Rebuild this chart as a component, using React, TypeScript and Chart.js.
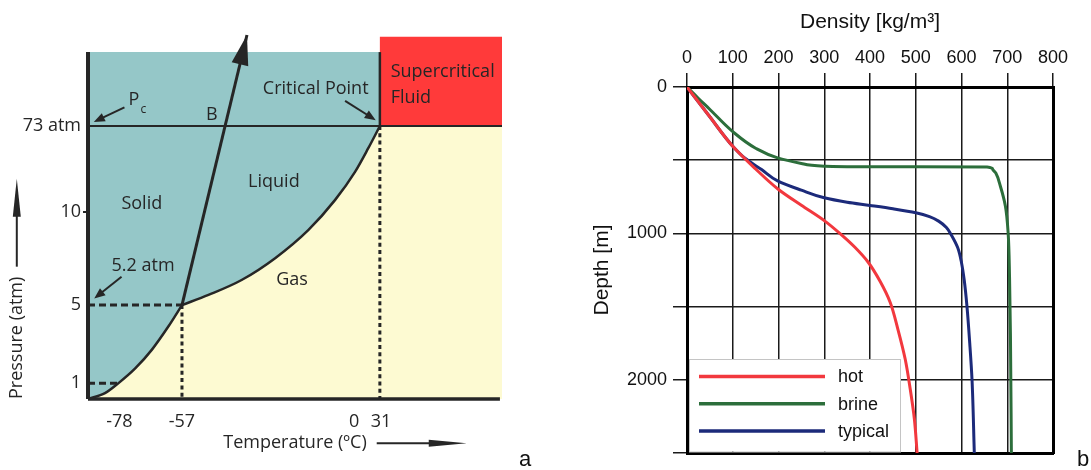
import React, { useEffect, useRef } from 'react';
import { Chart, registerables } from 'chart.js';

Chart.register(...registerables);

// ---------------- Panel a: CO2 phase diagram (schematic diagram units 0–100) ----------------
const temperatureTicks = ['-78', '-57', '0', '31'];
const temperatureTickPos = [7.6, 22.7, 64.3, 70.8];
const pressureTicks = ['1', '5', '10', '73 atm'];
const pressureTickPos = [4.4, 25.8, 51.4, 75.0];

const sublimationT = [0, 4.1, 7.3, 11.4, 15.4, 19.4, 22.7];
const sublimationP = [0, 1.6, 4.3, 8.4, 13.5, 19.9, 25.8];
const vaporizationT = [22.7, 29.1, 37.1, 45.2, 53.2, 59.7, 64.5, 67.7, 70.5];
const vaporizationP = [25.8, 28.6, 32.7, 38.7, 46.4, 54.7, 62.4, 68.9, 75.0];
const meltingT = [22.7, 38.4];
const meltingP = [25.8, 100];
const triplePoint = [22.7, 25.8];
const onePressurePoint = [7.3, 4.3];
const criticalPoint = [70.5, 75.0];
const solidLiquidTop = 95.3;
const supercriticalTop = 99.5;
const diagramMaxT = 100;

const phaseLabels = ['Solid', 'Liquid', 'Gas'];
const phaseLabelT = [13.0, 44.9, 49.3];
const phaseLabelP = [53.6, 59.6, 32.7];

// ---------------- Panel b: density vs depth ----------------
const seriesNames = ['hot', 'brine', 'typical'];
const hotDensity = [0, 49, 100, 150, 200, 250, 300, 334, 367, 396, 422, 444, 461, 477, 488, 497, 503];
const hotDepth = [0, 200, 405, 560, 700, 808, 913, 1000, 1095, 1197, 1327, 1470, 1655, 1860, 2065, 2268, 2500];
const brineDensity = [0, 24, 49, 100, 150, 198, 250, 300, 350, 656, 668, 675, 685, 696, 702, 705, 707, 709];
const brineDepth = [0, 75, 150, 305, 418, 484, 522, 541, 544, 547, 560, 588, 678, 814, 1000, 1300, 1700, 2500];
const typicalDensity = [0, 49, 100, 126, 163, 199, 250, 300, 350, 400, 450, 500, 530, 550, 567, 579, 592, 600, 606, 612, 618, 623, 628];
const typicalDepth = [0, 200, 405, 485, 564, 643, 705, 757, 787, 809, 832, 859, 885, 916, 960, 1018, 1100, 1200, 1320, 1500, 1750, 2000, 2500];
const densityMax = 800;
const depthMax = 2500;

const INK = '#262626';
const TEAL = '#95c7c8';
const CREAM = '#fdfad2';
const RED = '#ff3a3a';
const OPEN = "'Open Sans', sans-serif";
const ARIAL = "'Liberation Sans', Arial, sans-serif";

const pts = (xs: number[], ys: number[]) => xs.map((x, i) => ({ x, y: ys[i] }));

function arrow(ctx: CanvasRenderingContext2D, x1: number, y1: number, x2: number, y2: number, headLen: number, headHalf: number, width: number) {
  const a = Math.atan2(y2 - y1, x2 - x1);
  const bx = x2 - Math.cos(a) * headLen * 0.8;
  const by = y2 - Math.sin(a) * headLen * 0.8;
  ctx.lineWidth = width;
  ctx.beginPath();
  ctx.moveTo(x1, y1);
  ctx.lineTo(bx, by);
  ctx.stroke();
  const hx = x2 - Math.cos(a) * headLen;
  const hy = y2 - Math.sin(a) * headLen;
  ctx.beginPath();
  ctx.moveTo(x2, y2);
  ctx.lineTo(hx - Math.sin(a) * headHalf, hy + Math.cos(a) * headHalf);
  ctx.lineTo(hx + Math.sin(a) * headHalf, hy - Math.cos(a) * headHalf);
  ctx.closePath();
  ctx.fill();
}

const phasePlugin = {
  id: 'phaseAnnotations',
  afterDatasetsDraw(chart: any) {
    const { ctx, scales } = chart;
    const xs = scales.x;
    const ys = scales.y;
    const px = (t: number) => xs.getPixelForValue(t);
    const py = (p: number) => ys.getPixelForValue(p);
    ctx.save();
    ctx.fillStyle = INK;
    ctx.strokeStyle = INK;
    ctx.font = `18px ${OPEN}`;
    ctx.textAlign = 'center';
    ctx.textBaseline = 'middle';
    phaseLabels.forEach((l, i) => ctx.fillText(l, px(phaseLabelT[i]), py(phaseLabelP[i])));
    ctx.fillText('Critical Point', px(55.0), py(85.2));
    ctx.fillText('B', px(29.9), py(78.0));
    ctx.fillText('5.2 atm', px(13.3), py(36.5));
    ctx.fillText('P', px(11.1), py(82.3));
    ctx.font = `12px ${OPEN}`;
    ctx.fillText('c', px(13.4), py(79.6));
    ctx.font = `18px ${OPEN}`;
    ctx.textAlign = 'left';
    ctx.fillText('Supercritical', px(73.1), py(89.8));
    ctx.fillText('Fluid', px(73.1), py(82.7));

    // annotation arrows
    arrow(ctx, px(8.8), py(80.1), px(1.4), py(76.1), 11, 4.5, 2);
    arrow(ctx, px(8.1), py(33.6), px(1.5), py(27.6), 11, 4.5, 2);
    arrow(ctx, px(62.1), py(81.9), px(69.5), py(76.6), 11, 4.5, 2);

    // arrowhead of the melting line
    const n = meltingT.length - 1;
    const tx = px(meltingT[n]);
    const ty = py(meltingP[n]);
    const a = Math.atan2(ty - py(meltingP[0]), tx - px(meltingT[0]));
    const hx = tx - Math.cos(a) * 30;
    const hy = ty - Math.sin(a) * 30;
    ctx.beginPath();
    ctx.moveTo(tx, ty);
    ctx.lineTo(hx - Math.sin(a) * 8.5, hy + Math.cos(a) * 8.5);
    ctx.lineTo(hx + Math.sin(a) * 8.5, hy - Math.cos(a) * 8.5);
    ctx.closePath();
    ctx.fill();

    // axis-title arrows
    ctx.font = `18px ${OPEN}`;
    const xt = xs.options.title;
    const xw = ctx.measureText(xt.text).width;
    const xcx = (xs.left + xs.right) / 2;
    const xcy = xs.bottom - (18 * 1.2) / 2 - xt.padding.bottom;
    arrow(ctx, xcx + xw / 2 + 10, xcy, xcx + xw / 2 + 100, xcy, 38, 3.5, 2);
    const yt = ys.options.title;
    const yw = ctx.measureText(yt.text).width;
    const ycx = ys.left + (18 * 1.2) / 2 + yt.padding.top;
    const ytop = ys.bottom - yw;
    arrow(ctx, ycx, ytop - 10, ycx, ytop - 98, 38, 4, 2);

    ctx.font = `22px ${ARIAL}`;
    ctx.fillStyle = '#111';
    ctx.textAlign = 'center';
    ctx.fillText('a', 525, 460);
    ctx.restore();
  },
};

function PhaseDiagram() {
  const ref = useRef<HTMLCanvasElement>(null);
  useEffect(() => {
    const curve = [...pts(sublimationT, sublimationP), ...pts(vaporizationT.slice(1), vaporizationP.slice(1))];
    const [cT, cP] = criticalPoint;
    const [tT, tP] = triplePoint;
    const [oT, oP] = onePressurePoint;
    const poly = (data: any[], color: string) => ({
      data, fill: 'shape', backgroundColor: color, borderWidth: 0, pointRadius: 0, tension: 0, order: 20,
    });
    const seg = (data: any[], width: number, dash: number[] = [], extra: any = {}) => ({
      data, fill: false, borderColor: INK, borderWidth: width, borderDash: dash, pointRadius: 0,
      tension: 0, order: 1, clip: false, borderCapStyle: 'butt', ...extra,
    });
    const chart = new Chart(ref.current!, {
      type: 'line',
      data: {
        datasets: [
          poly([...curve, { x: cT, y: solidLiquidTop }, { x: 0, y: solidLiquidTop }], TEAL),
          poly([...curve, { x: diagramMaxT, y: cP }, { x: diagramMaxT, y: 0 }], CREAM),
          poly([{ x: cT, y: cP }, { x: diagramMaxT, y: cP }, { x: diagramMaxT, y: supercriticalTop }, { x: cT, y: supercriticalTop }], RED),
          seg([{ x: 0, y: tP }, { x: tT, y: tP }], 3, [7, 4]),
          seg([{ x: tT, y: tP }, { x: tT, y: 0 }], 3, [4, 3.3]),
          seg([{ x: 0, y: oP }, { x: oT, y: oP }], 3, [7, 4]),
          seg([{ x: cT, y: cP }, { x: cT, y: 0 }], 3, [4, 3.3]),
          seg([{ x: 0, y: cP }, { x: diagramMaxT, y: cP }], 2),
          seg([{ x: cT, y: cP }, { x: cT, y: solidLiquidTop }], 2.5),
          seg(pts(sublimationT, sublimationP), 2.5, [], { cubicInterpolationMode: 'monotone' }),
          seg(pts(vaporizationT, vaporizationP), 2.5, [], { cubicInterpolationMode: 'monotone' }),
          seg(pts(meltingT, meltingP), 3),
          seg([{ x: 0, y: 0 }, { x: 0, y: solidLiquidTop }], 4),
          seg([{ x: 0, y: 0 }, { x: diagramMaxT - 0.5, y: 0 }], 3.5),
        ],
      },
      options: {
        responsive: false,
        animation: false,
        devicePixelRatio: 1,
        events: [],
        layout: { padding: { top: 35, right: 43, bottom: 0, left: 0 } },
        plugins: { legend: { display: false }, tooltip: { enabled: false } },
        scales: {
          x: {
            type: 'linear', position: 'bottom', min: 0, max: diagramMaxT,
            afterBuildTicks: (s: any) => { s.ticks = temperatureTickPos.map((value) => ({ value })); },
            afterFit: (s: any) => { s.height = 71; },
            ticks: {
              autoSkip: false, maxRotation: 0, padding: 4, color: INK, font: { family: OPEN, size: 18 },
              callback: (_v: any, i: number) => temperatureTicks[i],
            },
            grid: { display: false },
            border: { display: false },
            title: { display: true, text: 'Temperature (ºC)', color: INK, font: { family: OPEN, size: 18 }, padding: { top: 0, bottom: 16 } },
          },
          y: {
            type: 'linear', position: 'left', min: 0, max: 100,
            afterBuildTicks: (s: any) => { s.ticks = pressureTickPos.map((value) => ({ value })); },
            afterFit: (s: any) => { s.width = 88; },
            ticks: {
              autoSkip: false, padding: 2, color: INK, font: { family: OPEN, size: 18 },
              callback: (_v: any, i: number) => pressureTicks[i],
            },
            grid: {
              drawOnChartArea: false, drawTicks: true, tickLength: 5, lineWidth: 2,
              color: (c: any) => (c.index === 2 ? INK : 'rgba(0,0,0,0)'),
            },
            border: { display: false },
            title: { display: true, text: 'Pressure (atm)', align: 'start', color: INK, font: { family: OPEN, size: 18 }, padding: { top: 6, bottom: 0 } },
          },
        },
      },
      plugins: [phasePlugin],
    } as any);
    return () => chart.destroy();
  }, []);
  return <canvas ref={ref} width={545} height={470} style={{ position: 'absolute', left: 0, top: 0 }} />;
}

const legendPlugin = {
  id: 'boxLegend',
  afterDatasetsDraw(chart: any) {
    const { ctx, chartArea } = chart;
    const x0 = chartArea.left + 2;
    const x1 = x0 + 212;
    const y1 = chartArea.bottom - 1.5;
    const y0 = chartArea.bottom - 94;
    ctx.save();
    ctx.fillStyle = '#fff';
    ctx.fillRect(x0, y0, x1 - x0, y1 - y0);
    ctx.strokeStyle = '#c4c4c4';
    ctx.lineWidth = 1;
    ctx.strokeRect(x0 + 0.5, y0 + 0.5, x1 - x0 - 1, y1 - y0);
    ctx.font = `18px ${ARIAL}`;
    ctx.textBaseline = 'middle';
    ctx.textAlign = 'left';
    chart.data.datasets.forEach((ds: any, i: number) => {
      const y = y0 + 17.5 + i * 27.3;
      ctx.strokeStyle = ds.borderColor;
      ctx.lineWidth = 3.5;
      ctx.beginPath();
      ctx.moveTo(x0 + 10, y);
      ctx.lineTo(x0 + 136, y);
      ctx.stroke();
      ctx.fillStyle = '#111';
      ctx.fillText(ds.label, x0 + 149, y + 1);
    });
    ctx.font = `22px ${ARIAL}`;
    ctx.textAlign = 'center';
    ctx.fillText('b', 538, 460);
    ctx.restore();
  },
};

function DensityChart() {
  const ref = useRef<HTMLCanvasElement>(null);
  useEffect(() => {
    const line = (label: string, xs: number[], ys: number[], color: string) => ({
      label, data: pts(xs, ys), borderColor: color, backgroundColor: color, borderWidth: 3,
      pointRadius: 0, fill: false, cubicInterpolationMode: 'monotone', xAxisID: 'x', yAxisID: 'y',
    });
    const grid = { color: '#1a1a1a', lineWidth: 1.5, tickLength: 14, tickColor: '#1a1a1a' };
    const chart = new Chart(ref.current!, {
      type: 'line',
      data: {
        datasets: [
          line(seriesNames[0], hotDensity, hotDepth, '#f2383e'),
          line(seriesNames[1], brineDensity, brineDepth, '#2c6e3b'),
          line(seriesNames[2], typicalDensity, typicalDepth, '#1c2a7a'),
        ],
      },
      options: {
        indexAxis: 'y',
        responsive: false,
        animation: false,
        devicePixelRatio: 1,
        events: [],
        layout: { padding: { top: 0, right: 38, bottom: 17, left: 0 } },
        plugins: { legend: { display: false }, tooltip: { enabled: false } },
        scales: {
          x: {
            type: 'linear', position: 'top', min: 0, max: densityMax,
            afterFit: (s: any) => { s.height = 87; },
            ticks: { stepSize: 100, padding: 4, color: '#111', font: { family: ARIAL, size: 18 } },
            grid,
            border: { width: 3, color: '#000' },
            title: { display: true, text: 'Density [kg/m³]', color: '#111', font: { family: ARIAL, size: 21 }, padding: { top: 10, bottom: 0 } },
          },
          y: {
            type: 'linear', position: 'left', min: 0, max: depthMax, reverse: true,
            afterFit: (s: any) => { s.width = 142; },
            ticks: {
              stepSize: 500, padding: 6, color: '#111', font: { family: ARIAL, size: 18 },
              callback: (v: any) => (v % 1000 === 0 ? String(v) : ''),
            },
            grid,
            border: { width: 3, color: '#000' },
            title: { display: true, text: 'Depth [m]', color: '#111', font: { family: ARIAL, size: 21 }, padding: { top: 45, bottom: 0 } },
          },
          x2: {
            type: 'linear', axis: 'x', position: 'bottom', min: 0, max: densityMax,
            afterFit: (s: any) => { s.height = 0; },
            ticks: { display: false },
            grid: { drawOnChartArea: false, drawTicks: false },
            border: { width: 3, color: '#000' },
          },
          y2: {
            type: 'linear', axis: 'y', position: 'right', min: 0, max: depthMax,
            afterFit: (s: any) => { s.width = 0; },
            ticks: { display: false },
            grid: { drawOnChartArea: false, drawTicks: false },
            border: { width: 3, color: '#000' },
          },
        },
      },
      plugins: [legendPlugin],
    } as any);
    return () => chart.destroy();
  }, []);
  return <canvas ref={ref} width={546} height={470} style={{ position: 'absolute', left: 545, top: 0 }} />;
}

export default function App() {
  return (
    <div style={{ position: 'absolute', left: 0, top: 0, width: 1091, height: 470, background: '#fff' }}>
      <PhaseDiagram />
      <DensityChart />
    </div>
  );
}
